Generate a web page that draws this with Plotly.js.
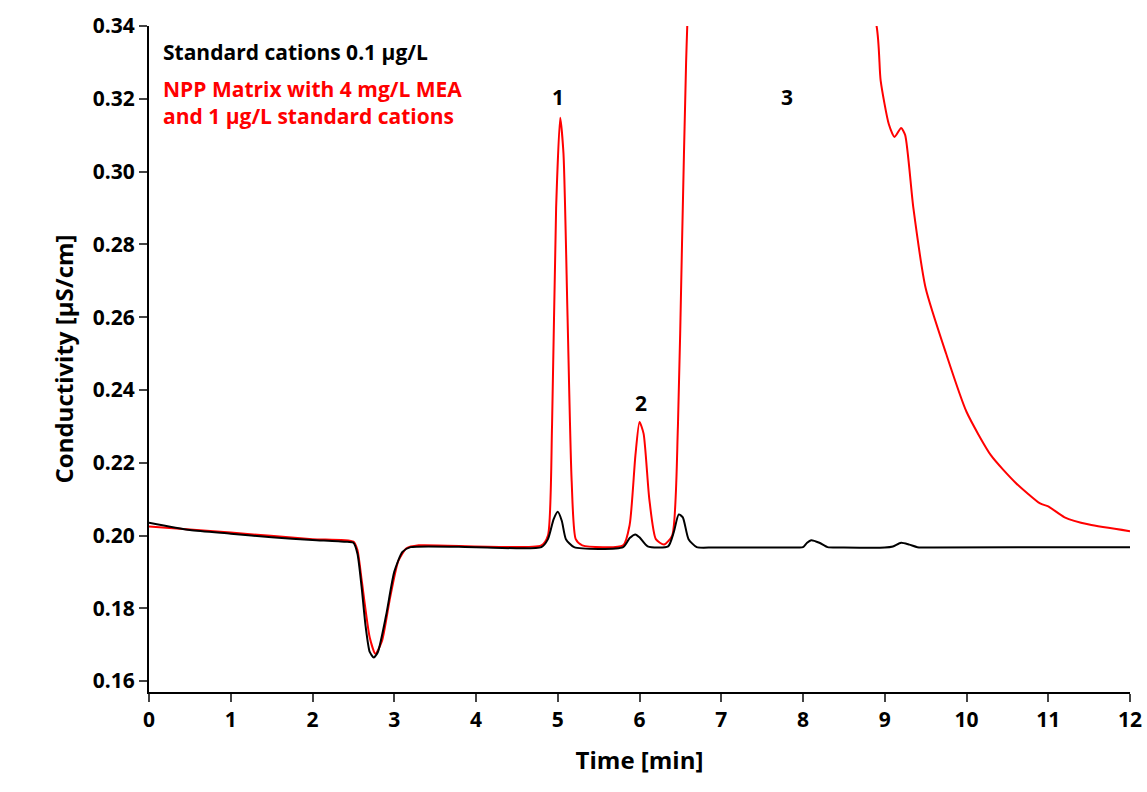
<!DOCTYPE html>
<html>
<head>
<meta charset="utf-8">
<script src="https://cdn.plot.ly/plotly-3.0.1.min.js"></script>
<style>body{margin:0;background:#fff}</style>
</head>
<body>
<div id="chart" style="width:1147px;height:792px"></div>
<script>
// standard cations 0.1 µg/L
var stdTime = [0,0.5,1,1.5,2,2.4,2.5,2.55,2.6,2.65,2.7,2.75,2.8,2.9,3.0,3.1,3.2,4,4.8,4.88,4.95,5.0,5.05,5.1,5.2,5.8,5.88,5.95,6.0,6.1,6.35,6.42,6.48,6.53,6.6,6.7,6.9,7.5,7.95,8.0,8.05,8.1,8.2,8.3,8.5,9.0,9.1,9.2,9.3,9.4,9.6,12];
var stdCond = [0.2035,0.2015,0.2005,0.1995,0.1988,0.1983,0.198,0.195,0.186,0.175,0.168,0.1665,0.168,0.178,0.19,0.1955,0.1968,0.1968,0.1968,0.199,0.2045,0.2065,0.204,0.199,0.1968,0.1968,0.1993,0.2003,0.1995,0.197,0.197,0.201,0.2058,0.205,0.199,0.1968,0.1967,0.1967,0.1967,0.1968,0.198,0.1987,0.198,0.1968,0.1967,0.1967,0.197,0.198,0.1975,0.1968,0.1967,0.1968];
// NPP matrix with 4 mg/L MEA
var nppTime = [0,1,2,2.5,2.55,2.6,2.7,2.77,2.85,2.95,3.05,3.15,3.3,4.8,4.88,4.93,4.98,5.03,5.07,5.12,5.17,5.22,5.3,5.8,5.88,5.95,6.0,6.05,6.12,6.2,6.3,6.4,6.47,6.52,6.57,6.62,7,8.9,8.95,9.05,9.12,9.2,9.25,9.35,9.5,9.75,10,10.3,10.6,10.9,11.0,11.2,11.5,12];
var nppCond = [0.2025,0.2008,0.199,0.1983,0.196,0.188,0.172,0.1675,0.171,0.183,0.193,0.1965,0.1973,0.1973,0.2,0.23,0.29,0.3148,0.305,0.26,0.215,0.199,0.1973,0.1973,0.203,0.222,0.2312,0.228,0.21,0.199,0.1975,0.2,0.23,0.28,0.33,0.36,0.5,0.34,0.325,0.313,0.3095,0.312,0.31,0.29,0.268,0.25,0.234,0.222,0.2145,0.2088,0.208,0.205,0.203,0.2012];
var peakLabels = ['1','2','3'];
var peakX = [5.0,6.02,7.8];
var peakY = [0.3205,0.2365,0.3205];
var xTicks = [0,1,2,3,4,5,6,7,8,9,10,11,12];
var yTicks = [0.16,0.18,0.2,0.22,0.24,0.26,0.28,0.3,0.32,0.34];

var F = 'Open Sans, DejaVu Sans, sans-serif';
var data = [
  {x: nppTime, y: nppCond, mode: 'lines', line: {color: '#ff0000', width: 2, shape: 'spline', smoothing: 0.6}},
  {x: stdTime, y: stdCond, mode: 'lines', line: {color: '#000000', width: 2, shape: 'spline', smoothing: 0.6}}
];
var ann = peakLabels.map(function(t, i){
  return {x: peakX[i], y: peakY[i], text: '<b>'+t+'</b>', showarrow: false, font: {family: F, size: 21, color: '#000'}};
});
ann.push({xref:'paper', yref:'paper', x:0.012, y:0.985, xanchor:'left', yanchor:'top', align:'left', showarrow:false,
  text:'<b>Standard cations 0.1 µg/L</b>', font:{family:F, size:21, color:'#000'}});
ann.push({xref:'paper', yref:'paper', x:0.012, y:0.93, xanchor:'left', yanchor:'top', align:'left', showarrow:false,
  text:'<b>NPP Matrix with 4 mg/L MEA<br>and 1 µg/L standard cations</b>', font:{family:F, size:21, color:'#ff0000'}});
var layout = {
  margin: {l: 149, r: 17, t: 26, b: 100},
  showlegend: false,
  plot_bgcolor: '#fff',
  xaxis: {range: [0, 12], tickvals: xTicks, ticktext: xTicks.map(function(v){return '<b>'+v+'</b>';}),
    showgrid: false, zeroline: false, showline: true, linecolor: '#000', linewidth: 2,
    ticks: 'outside', ticklen: 8, tickwidth: 2, tickfont: {family: F, size: 21, color: '#000'},
    title: {text: '<b>Time [min]</b>', font: {family: F, size: 24, color: '#000'}, standoff: 20}},
  yaxis: {range: [0.157, 0.34], tickvals: yTicks, ticktext: yTicks.map(function(v){return '<b>'+v.toFixed(2)+'</b>';}),
    showgrid: false, zeroline: false, showline: true, linecolor: '#000', linewidth: 2,
    ticks: 'outside', ticklen: 8, tickwidth: 2, tickfont: {family: F, size: 21, color: '#000'},
    title: {text: '<b>Conductivity [µS/cm]</b>', font: {family: F, size: 24, color: '#000'}, standoff: 12}},
  annotations: ann
};
Plotly.newPlot('chart', data, layout, {displayModeBar: false});
</script>
</body>
</html>
